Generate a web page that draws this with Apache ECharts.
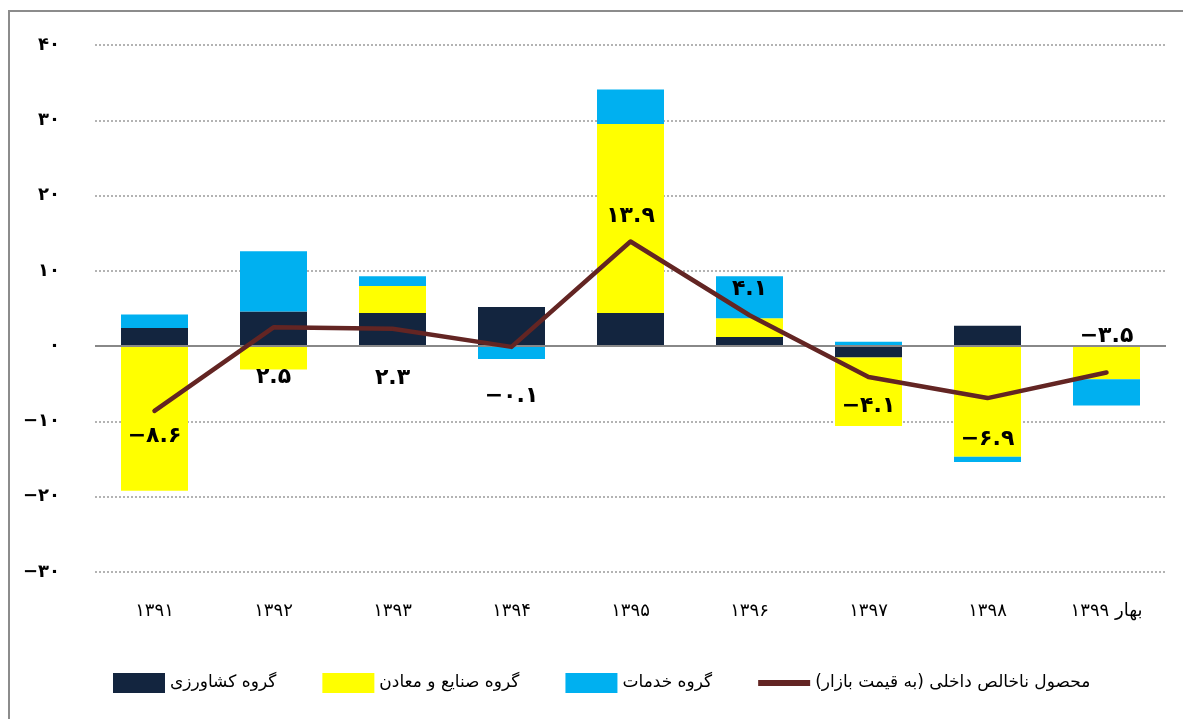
<!DOCTYPE html>
<html>
<head>
<meta charset="utf-8">
<script src="https://cdn.jsdelivr.net/npm/echarts@6/dist/echarts.min.js"></script>
<style>html,body{margin:0;padding:0;background:#fff;}#c{width:1183px;height:719px;}</style>
</head>
<body>
<div id="c"></div>
<script>
const categories = ['۱۳۹۱','۱۳۹۲','۱۳۹۳','۱۳۹۴','۱۳۹۵','۱۳۹۶','۱۳۹۷','۱۳۹۸','بهار ۱۳۹۹'];
const agriculture = [2.4, 4.6, 4.4, 5.2, 4.4, 1.2, -1.5, 2.7, 0];
const industry = [-19.2, -3.1, 3.6, -0.1, 25.1, 2.5, -9.1, -14.7, -4.4];
const services = [1.8, 8.0, 1.3, -1.6, 4.6, 5.6, 0.6, -0.7, -3.5];
const gdp = [-8.6, 2.5, 2.3, -0.1, 13.9, 4.1, -4.1, -6.9, -3.5];
const seriesNames = ['گروه کشاورزی', 'گروه صنایع و معادن', 'گروه خدمات', 'محصول ناخالص داخلی (به قیمت بازار)'];
const yMin = -30, yMax = 40, yStep = 10;

const faDigits = '۰۱۲۳۴۵۶۷۸۹';
function toFa(v) {
  const s = String(Math.abs(v)).replace(/[0-9]/g, d => faDigits[+d]);
  return (v < 0 ? '−' : '') + s;
}

// label placement for the GDP line (position, distance)
const labelPlace = [
  ['bottom', 14], ['bottom', 38], ['bottom', 38], ['bottom', 38], ['top', 14],
  ['top', 14], ['bottom', 18], ['bottom', 30], ['top', 25]
];

const FONT = 'DejaVu Sans';
const chart = echarts.init(document.getElementById('c'), null, {renderer: 'canvas'});
chart.setOption({
  backgroundColor: '#ffffff',
  animation: false,
  textStyle: {fontFamily: FONT},
  graphic: [{
    type: 'polyline', silent: true,
    shape: {points: [[9, 719], [9, 11], [1183, 11]]},
    style: {fill: null, stroke: '#8c8c8c', lineWidth: 2}
  }],
  grid: {left: 95, right: 17, top: 45, bottom: 147},
  legend: {
    left: 108, top: 668,
    itemWidth: 52, itemHeight: 20, itemGap: 46,
    textStyle: {fontFamily: FONT, fontSize: 17, color: '#000'},
    data: [
      {name: seriesNames[0], icon: 'rect'},
      {name: seriesNames[1], icon: 'rect'},
      {name: seriesNames[2], icon: 'rect'},
      {name: seriesNames[3], icon: 'path://M0,0L52,0L52,6L0,6Z', itemStyle: {color: '#632523'}}
    ]
  },
  xAxis: {
    type: 'category',
    data: categories,
    axisLine: {show: false, onZero: false},
    axisTick: {show: false},
    axisLabel: {margin: 30, fontFamily: FONT, fontSize: 18, color: '#000'},
    splitLine: {show: false}
  },
  yAxis: {
    type: 'value', min: yMin, max: yMax, interval: yStep,
    axisLine: {show: false},
    axisTick: {show: false},
    axisLabel: {margin: 35, fontFamily: FONT, fontSize: 18, fontWeight: 'bold', color: '#000', formatter: v => toFa(v)},
    splitLine: {show: true, lineStyle: {color: '#9a9a9a', type: [2, 2], width: 1.5}}
  },
  series: [
    {
      name: seriesNames[0], type: 'bar', stack: 'total', barWidth: 67,
      itemStyle: {color: '#13253f'}, data: agriculture,
      markLine: {
        silent: true, symbol: 'none', label: {show: false},
        lineStyle: {color: '#888888', type: 'solid', width: 2},
        data: [{yAxis: 0}]
      },
      z: 2
    },
    {name: seriesNames[1], type: 'bar', stack: 'total', barWidth: 67, itemStyle: {color: '#ffff00'}, data: industry, z: 2},
    {name: seriesNames[2], type: 'bar', stack: 'total', barWidth: 67, itemStyle: {color: '#00b0f0'}, data: services, z: 2},
    {
      name: seriesNames[3], type: 'line', symbol: 'circle', symbolSize: 1, showSymbol: true, z: 5,
      lineStyle: {color: '#632523', width: 4.5, cap: 'round', join: 'round'},
      itemStyle: {color: '#632523'},
      data: gdp.map((v, i) => ({
        value: v,
        label: {show: true, position: labelPlace[i][0], distance: labelPlace[i][1]}
      })),
      label: {
        show: true, fontFamily: FONT, fontSize: 22, fontWeight: 'bold', color: '#000',
        formatter: p => toFa(p.value)
      }
    }
  ]
});
</script>
</body>
</html>
